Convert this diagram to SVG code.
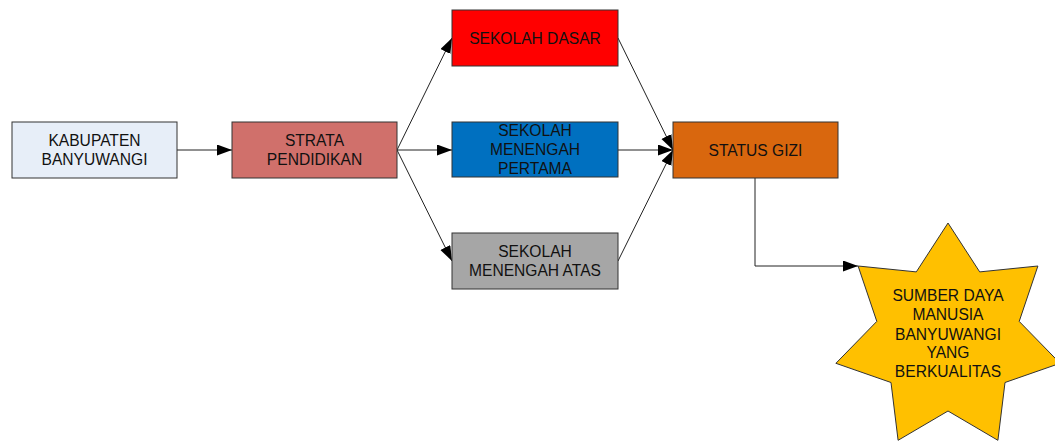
<svg xmlns="http://www.w3.org/2000/svg" width="1055" height="443" viewBox="0 0 1055 443">
<style>
.box{stroke:#333;stroke-width:1}
.t{font-family:"Liberation Sans",Arial,sans-serif;font-size:15.6px;fill:#111;text-anchor:middle}
.c{fill:none;stroke:#222;stroke-width:1;marker-end:url(#ah)}
</style>
<defs>
<marker id="ah" markerWidth="16" markerHeight="12" refX="15" refY="5.5" orient="auto" markerUnits="userSpaceOnUse">
<path d="M0,0 L15,5.5 L0,11 Z" fill="#000"/>
</marker>
</defs>
<rect width="1055" height="443" fill="#fff"/>
<g id="connectors">
<path class="c" d="M177,150 L232,150"/>
<path class="c" d="M397,150 L452,38"/>
<path class="c" d="M397,150 L452,150"/>
<path class="c" d="M397,150 L452,261"/>
<path class="c" d="M618,38 L673,150"/>
<path class="c" d="M618,150 L673,150"/>
<path class="c" d="M618,261 L673,150"/>
<path class="c" d="M755,178 L755,266 L858,266"/>
</g>
<g id="kabupaten">
<rect class="box" x="12" y="122" width="165" height="56" fill="#E7EEF8"/>
<text class="t" x="94.5" y="146">KABUPATEN</text>
<text class="t" x="94.5" y="164.5">BANYUWANGI</text>
</g>
<g id="strata">
<rect class="box" x="232" y="122" width="165" height="56" fill="#D0706B"/>
<text class="t" x="314.5" y="146">STRATA</text>
<text class="t" x="314.5" y="164.5">PENDIDIKAN</text>
</g>
<g id="sd">
<rect class="box" x="452" y="10" width="166" height="56" fill="#FF0000"/>
<text class="t" x="535" y="43.5">SEKOLAH DASAR</text>
</g>
<g id="smp">
<rect class="box" x="452" y="122" width="166" height="55" fill="#0070C0"/>
<text class="t" x="535" y="136">SEKOLAH</text>
<text class="t" x="535" y="155">MENENGAH</text>
<text class="t" x="535" y="174">PERTAMA</text>
</g>
<g id="sma">
<rect class="box" x="452" y="233" width="166" height="56" fill="#A6A6A6"/>
<text class="t" x="535" y="257">SEKOLAH</text>
<text class="t" x="535" y="275.5">MENENGAH ATAS</text>
</g>
<g id="status">
<rect class="box" x="673" y="122" width="165" height="56" fill="#D9670E"/>
<text class="t" x="755.5" y="155.5">STATUS GIZI</text>
</g>
<g id="sdm">
<polygon class="box" fill="#FFC000" points="948,223 979.7,271.9 1037.9,266 1019.2,321.4 1060.1,363.3 1005,382.5 997.9,440.3 948,411 898.1,440.3 891,382.5 835.9,363.3 876.8,321.4 858.1,266 916.3,271.9"/>
<text class="t" x="948" y="301">SUMBER DAYA</text>
<text class="t" x="948" y="320">MANUSIA</text>
<text class="t" x="948" y="339.5">BANYUWANGI</text>
<text class="t" x="948" y="358">YANG</text>
<text class="t" x="948" y="376.5">BERKUALITAS</text>
</g>
</svg>
